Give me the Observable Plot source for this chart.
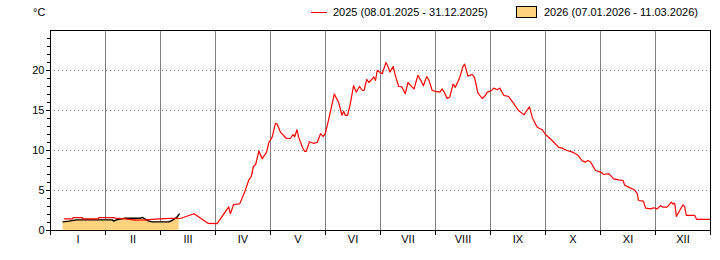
<!DOCTYPE html>
<html>
<head>
<meta charset="utf-8">
<script src="https://cdn.jsdelivr.net/npm/d3@7"></script>
<script src="https://cdn.jsdelivr.net/npm/@observablehq/plot@0.6"></script>
<style>
  body { margin: 0; background: #fff; font-family: "Liberation Sans", Arial, sans-serif; }
  #wrap { position: relative; width: 720px; height: 260px; }
  .lg { position: absolute; font-size: 11px; color: #000; line-height: 12px; white-space: nowrap; }
</style>
</head>
<body>
<div id="wrap"></div>
<script>
// Time axis: months since 1 January (each month drawn with equal width)
const monthLabels = ["I","II","III","IV","V","VI","VII","VIII","IX","X","XI","XII"];
const yTicks = [0, 5, 10, 15, 20];
const series2025Label = "2025 (08.01.2025 - 31.12.2025)";
const series2026Label = "2026 (07.01.2026 - 11.03.2026)";

const t2025 = [0.25,0.40,0.41,0.58,0.58,0.87,0.88,1.16,1.17,1.36,1.55,1.73,1.91,2.18,2.36,2.61,2.87,3.03,3.24,3.27,3.33,3.44,3.53,3.61,3.65,3.69,3.73,3.79,3.85,3.89,3.93,3.97,4.03,4.09,4.12,4.18,4.29,4.36,4.41,4.44,4.48,4.51,4.58,4.62,4.65,4.71,4.78,4.85,4.91,4.96,5.00,5.06,5.16,5.24,5.30,5.33,5.36,5.40,5.45,5.51,5.56,5.62,5.67,5.70,5.75,5.79,5.88,5.91,5.94,6.03,6.10,6.13,6.17,6.23,6.27,6.33,6.39,6.45,6.50,6.55,6.61,6.68,6.73,6.78,6.84,6.88,6.94,7.00,7.08,7.12,7.16,7.21,7.26,7.32,7.36,7.44,7.50,7.53,7.59,7.67,7.71,7.77,7.85,7.91,7.94,8.01,8.06,8.12,8.17,8.24,8.33,8.42,8.51,8.61,8.65,8.71,8.76,8.85,8.94,9.00,9.12,9.24,9.30,9.39,9.49,9.59,9.67,9.73,9.77,9.82,9.91,10.00,10.06,10.15,10.24,10.33,10.41,10.44,10.51,10.61,10.67,10.69,10.78,10.82,10.91,10.97,11.03,11.09,11.14,11.21,11.29,11.32,11.35,11.38,11.44,11.50,11.53,11.56,11.71,11.75,12.00];
const v2025 = [1.45,1.45,1.62,1.62,1.45,1.45,1.62,1.62,1.54,1.45,1.30,1.33,1.42,1.52,1.50,2.10,0.88,0.85,2.95,2.10,3.25,3.33,4.80,6.40,6.75,8.00,8.25,9.95,8.95,9.40,9.80,11.00,11.67,13.40,13.30,12.30,11.50,11.50,12.00,11.70,12.60,11.70,10.40,9.90,9.90,11.10,10.90,11.00,12.10,11.75,12.20,13.96,17.05,16.00,14.40,14.90,14.40,14.40,15.80,18.10,17.30,18.00,17.50,17.50,18.90,18.50,19.20,18.75,20.00,19.60,21.00,20.60,19.80,20.50,19.40,18.00,17.95,17.10,18.50,18.10,17.70,19.40,18.80,18.10,19.25,18.80,17.50,17.40,17.30,17.70,17.30,16.50,16.70,18.30,17.90,19.10,20.50,20.80,19.30,19.50,19.10,17.20,16.50,16.90,17.30,17.45,17.80,17.60,17.80,16.90,16.75,15.90,15.00,14.45,14.90,15.45,14.10,12.90,12.60,12.00,11.25,10.40,10.30,10.00,9.80,9.40,8.70,8.55,8.75,8.55,7.50,7.30,7.00,7.10,6.45,6.33,6.25,5.65,5.42,5.10,4.60,3.75,3.67,2.80,2.70,2.85,2.70,3.10,2.92,2.92,3.55,3.30,3.40,1.75,2.50,3.20,3.00,1.90,1.90,1.38,1.38];

const t2026 = [0.23,0.33,0.48,1.12,1.15,1.20,1.36,1.64,1.67,1.73,1.79,1.85,2.15,2.21,2.30,2.34];
const v2026 = [1.08,1.17,1.33,1.33,1.17,1.33,1.54,1.54,1.63,1.38,1.17,1.08,1.08,1.25,1.67,2.05];

const d2025 = t2025.map((t, i) => ({t, v: v2025[i]}));
const d2026 = t2026.map((t, i) => ({t, v: v2026[i]}));
const monthBounds = d3.range(0, 13);
const monthMids = monthLabels.map((_, i) => i + 0.5);

const chart = Plot.plot({
  width: 720, height: 260,
  marginLeft: 50, marginRight: 10, marginTop: 30, marginBottom: 30,
  style: { fontFamily: "'Liberation Sans', Arial, sans-serif", fontSize: "11px", color: "#000", background: "#fff" },
  x: { domain: [0, 12], label: null },
  y: { domain: [0, 25], label: null },
  marks: [
    Plot.ruleX(monthBounds.slice(1, 12), { stroke: "#808080", strokeWidth: 1 }),
    Plot.ruleY(yTicks.slice(1), { stroke: "#808080", strokeDasharray: "1,3" }),
    Plot.areaY(d2026, { x: "t", y: "v", fill: "#ffd280" }),
    Plot.line(d2026, { x: "t", y: "v", stroke: "#000", strokeWidth: 1.4 }),
    Plot.line(d2025, { x: "t", y: "v", stroke: "#ff0000", strokeWidth: 1.2 }),
    Plot.frame({ stroke: "#000", strokeWidth: 1 }),
    Plot.axisY({ ticks: d3.range(0, 25), tickSize: 3, text: null, stroke: "#000", label: null }),
    Plot.axisY({ ticks: yTicks, tickSize: 4, tickPadding: 2, stroke: "#000", label: null, fill: "#000" }),
    Plot.axisX({ ticks: monthBounds, tickSize: 5, text: null, stroke: "#000", label: null }),
    Plot.axisX({ ticks: monthMids, tickSize: 0, tickPadding: 5, tickFormat: (d, i) => monthLabels[Math.round(d - 0.5)], label: null, fill: "#000" })
  ]
});
const wrap = document.getElementById("wrap");
wrap.appendChild(chart);

function addLegend(html, left, top) {
  const el = document.createElement("div");
  el.className = "lg";
  el.style.left = left + "px";
  el.style.top = top + "px";
  el.innerHTML = html;
  wrap.appendChild(el);
}
addLegend("°C", 33, 6);
addLegend('<span style="display:inline-block;width:16px;height:0;border-top:1px solid #ff0000;vertical-align:middle;margin-right:6px;position:relative;top:-1px"></span>' + series2025Label, 311, 6);
addLegend('<span style="display:inline-block;width:21px;height:12px;box-sizing:border-box;border:1px solid #000;background:#ffd280;vertical-align:middle;margin-right:7px;position:relative;top:-1px"></span>' + series2026Label, 516, 6);
</script>
</body>
</html>
